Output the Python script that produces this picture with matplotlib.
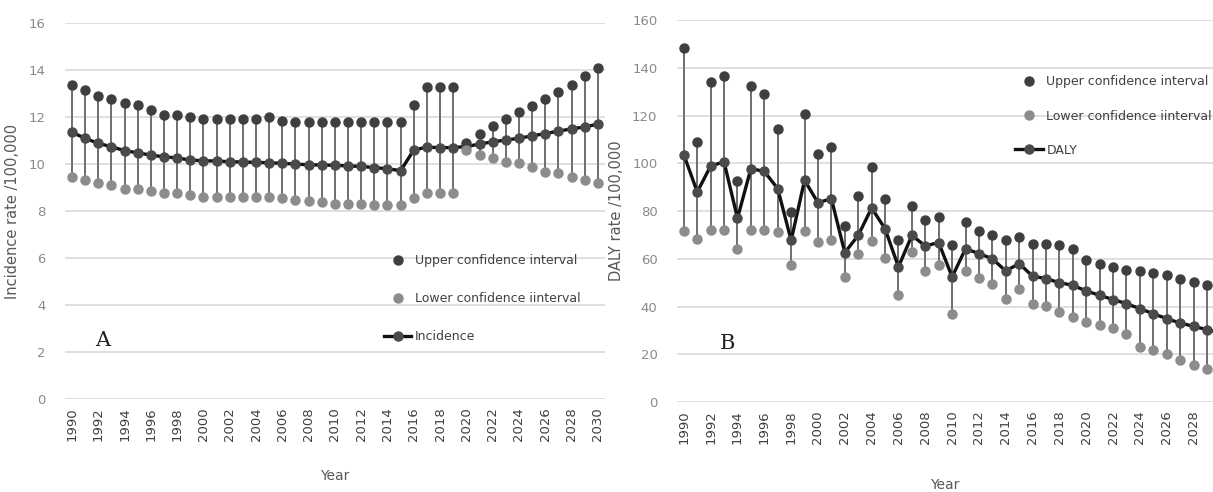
import numpy as np
import matplotlib.pyplot as plt

years = np.arange(1990, 2031)

# Panel A: incidence rate /100,000
inc_upper = [13.35, 13.15, 12.9, 12.77, 12.6, 12.5, 12.3, 12.1, 12.07, 12.0,
             11.94, 11.94, 11.9, 11.9, 11.94, 12.0, 11.85, 11.8, 11.8, 11.8,
             11.8, 11.8, 11.8, 11.8, 11.8, 11.8, 12.5, 13.3, 13.3, 13.3,
             10.9, 11.3, 11.6, 11.94, 12.2, 12.47, 12.75, 13.08, 13.36, 13.74, 14.1]
inc_mid = [11.35, 11.1, 10.88, 10.74, 10.57, 10.48, 10.38, 10.31, 10.26, 10.17,
           10.14, 10.13, 10.1, 10.09, 10.07, 10.06, 10.03, 10.0, 9.97, 9.96,
           9.95, 9.92, 9.9, 9.85, 9.8, 9.72, 10.6, 10.72, 10.7, 10.7,
           10.75, 10.85, 10.95, 11.02, 11.1, 11.2, 11.3, 11.4, 11.5, 11.58, 11.7]
inc_lower = [9.46, 9.32, 9.18, 9.09, 8.96, 8.92, 8.85, 8.78, 8.75, 8.68,
             8.6, 8.6, 8.6, 8.6, 8.6, 8.6, 8.57, 8.47, 8.43, 8.4,
             8.3, 8.3, 8.28, 8.27, 8.25, 8.25, 8.54, 8.78, 8.78, 8.78,
             10.62, 10.38, 10.24, 10.1, 10.03, 9.89, 9.67, 9.6, 9.46, 9.32, 9.2]

# Panel B: DALY rate /100,000
daly_upper = [148.3, 108.9, 134.0, 136.5, 92.5, 132.3, 129.2, 114.5, 79.5, 120.8,
              103.8, 106.8, 73.7, 86.3, 98.5, 85.2, 68.0, 82.2, 76.1, 77.5,
              65.6, 75.4, 71.6, 69.8, 68.0, 69.1, 66.3, 66.3, 65.6, 64.2,
              59.6, 58.0, 56.6, 55.4, 54.9, 54.0, 53.0, 51.7, 50.3, 48.9, 48.0]
daly_mid = [103.6, 88.0, 98.9, 100.6, 77.0, 97.8, 96.6, 89.4, 67.7, 92.9,
            83.5, 85.2, 62.6, 69.8, 81.3, 72.6, 56.6, 69.8, 65.4, 66.8,
            52.4, 64.2, 62.2, 60.0, 54.9, 58.0, 52.7, 51.7, 50.0, 48.9,
            46.5, 44.7, 42.9, 41.2, 39.1, 37.0, 34.9, 33.1, 31.7, 30.3, 29.0]
daly_lower = [71.5, 68.4, 71.9, 71.9, 64.2, 71.9, 71.9, 71.2, 57.3, 71.5,
              67.0, 67.7, 52.5, 62.2, 67.3, 60.3, 44.7, 62.8, 54.9, 57.3,
              37.0, 54.7, 52.1, 49.6, 43.3, 47.5, 41.2, 40.1, 37.7, 35.6,
              33.5, 32.1, 31.0, 28.6, 23.0, 21.6, 20.3, 17.5, 15.4, 14.0, 13.0]

ticks_a = np.arange(1990, 2031, 2)
ticks_b = np.arange(1990, 2029, 2)

UP_C = '#3f3f3f'
LO_C = '#8c8c8c'
BAR_C = '#6e6e6e'
TXT_C = '#595959'


def draw_panel(ax, upper, mid, lower, line_label, ylabel, ymax, ystep, ticks,
               letter, letter_xy, legend_anchor, spacing, xlabelpad):
    ax.vlines(years, lower, upper, color=BAR_C, lw=1.4, zorder=2)
    ax.plot(years, upper, 'o', color=UP_C, ms=6.5, zorder=4, label='Upper confidence interval')
    ax.plot(years, lower, 'o', color=LO_C, ms=6.5, zorder=4, label='Lower confidence iinterval')
    ax.plot(years, mid, '-o', color='#111111', lw=2.4, ms=6.5, mfc='#4a4a4a', mec='#4a4a4a',
            zorder=3, label=line_label)

    ax.set_ylim(0, ymax)
    ax.set_yticks(np.arange(0, ymax + 1, ystep))
    ax.grid(axis='y', color='#d9d9d9', lw=1.2)
    ax.set_axisbelow(True)
    for s in ax.spines.values():
        s.set_visible(False)
    ax.set_xticks(ticks)
    ax.set_xticklabels([str(y) for y in ticks], rotation=90, fontsize=9.5, color='#404040')
    ax.tick_params(axis='both', length=0, pad=6)
    ax.tick_params(axis='y', labelsize=9.5, labelcolor='#8a8a8a', pad=14)
    ax.set_xlabel('Year', fontsize=10, color=TXT_C, labelpad=xlabelpad)
    ax.set_ylabel(ylabel, fontsize=10.5, color=TXT_C, labelpad=6)
    ax.text(letter_xy[0], letter_xy[1], letter, transform=ax.transAxes,
            fontsize=15, family='DejaVu Serif', color='#222222')
    ax.legend(loc='upper left', bbox_to_anchor=legend_anchor, frameon=False,
              fontsize=9, labelcolor='#404040', handlelength=2.2,
              handletextpad=0.3, labelspacing=spacing)


fig = plt.figure(figsize=(12.13, 4.92), dpi=100)

ax1 = fig.add_axes([0.0536, 0.189, 0.445, 0.764])
ax1.set_xlim(1989.47, 2030.53)
draw_panel(ax1, inc_upper, inc_mid, inc_lower, 'Incidence', 'Incidence rate /100,000',
           16, 2, ticks_a, 'A', (0.055, 0.14), (0.57, 0.415), 2.0, 20)

ax2 = fig.add_axes([0.558, 0.183, 0.442, 0.776])
ax2.set_xlim(1989.48, 2029.45)
draw_panel(ax2, daly_upper, daly_mid, daly_lower, 'DALY', 'DALY rate /100,000',
           160, 20, ticks_b, 'B', (0.08, 0.14), (0.61, 0.885), 1.7, 24)

fig.savefig('out.png', dpi=100)
